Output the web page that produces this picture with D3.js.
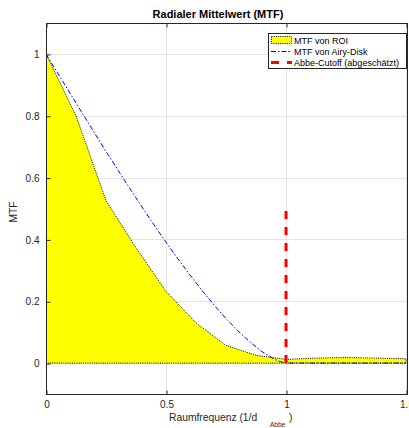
<!DOCTYPE html>
<html>
<head>
<meta charset="utf-8">
<script src="https://cdn.jsdelivr.net/npm/d3@7"></script>
<style>
  html, body { margin: 0; padding: 0; background: #fff; }
  svg { display: block; font-family: "Liberation Sans", Arial, Helvetica, sans-serif; }
</style>
</head>
<body>
<svg id="chart" width="409" height="428"></svg>
<script>
// Spatial frequency samples (in units of 1/d_Abbe) and measured radial MTF of the ROI
const roiFreq = [0, 0.125, 0.25, 0.375, 0.5, 0.625, 0.75, 0.875, 1.0, 1.125, 1.25, 1.375, 1.5];
const roiMtf  = [1.0, 0.80, 0.525, 0.373, 0.232, 0.130, 0.057, 0.025, 0.012, 0.016, 0.018, 0.016, 0.014];

// Diffraction-limited MTF of the Airy disk
const airyFreq = [0, 0.05, 0.1, 0.15, 0.2, 0.25, 0.3, 0.35, 0.4, 0.45, 0.5, 0.55, 0.6, 0.65, 0.7,
                  0.75, 0.8, 0.85, 0.9, 0.95, 0.975, 1.0, 1.25, 1.5];
const airyMtf  = [1.0, 0.936, 0.873, 0.810, 0.747, 0.685, 0.624, 0.564, 0.505, 0.447, 0.391,
                  0.337, 0.285, 0.235, 0.188, 0.144, 0.104, 0.068, 0.037, 0.013, 0.005, 0.0, 0.0, 0.0];

// Estimated Abbe cutoff marker
const cutoffFreq = [1.0, 1.0];
const cutoffMtf  = [0, 0.5];

const xTicks = [0, 0.5, 1, 1.5];
const yTicks = [0, 0.2, 0.4, 0.6, 0.8, 1];
const legendLabels = ["MTF von ROI", "MTF von Airy-Disk", "Abbe-Cutoff (abgeschätzt)"];

const svg = d3.select("#chart");
const plotL = 46, plotR = 407, plotT = 23, plotB = 394;
const ink = "#262626";

const x = d3.scaleLinear().domain([0, 1.5]).range([plotL, plotR - 1]);
const y = d3.scaleLinear().domain([-0.1, 1.1]).range([plotB, plotT]);

// clip to plot area
svg.append("defs").append("clipPath").attr("id", "plotclip")
  .append("rect").attr("x", plotL).attr("y", plotT).attr("width", plotR - plotL).attr("height", plotB - plotT);

// grid
const grid = svg.append("g").attr("stroke", "#e3e3e3").attr("stroke-width", 1);
grid.selectAll(".gx").data(xTicks).join("line")
  .attr("x1", d => Math.round(x(d)) + 0.5).attr("x2", d => Math.round(x(d)) + 0.5)
  .attr("y1", plotT).attr("y2", plotB);
grid.selectAll(".gy").data(yTicks).join("line")
  .attr("y1", d => Math.round(y(d)) + 0.5).attr("y2", d => Math.round(y(d)) + 0.5)
  .attr("x1", plotL).attr("x2", plotR);

const plot = svg.append("g").attr("clip-path", "url(#plotclip)");

const roiPts = roiFreq.map((f, i) => [f, roiMtf[i]]);
const area = d3.area().x(d => x(d[0])).y0(y(0)).y1(d => y(d[1]));
plot.append("path").datum(roiPts).attr("d", area).attr("fill", "#ffff00");

// dotted outline of the filled region
const outline = [[0, 0]].concat(roiPts, [[1.5, 0], [0, 0]]);
plot.append("path").datum(outline)
  .attr("d", d3.line().x(d => x(d[0])).y(d => y(d[1])))
  .attr("fill", "none").attr("stroke", "#000").attr("stroke-width", 1)
  .attr("stroke-dasharray", "1,1.2");

// Airy disk MTF
plot.append("path").datum(airyFreq.map((f, i) => [f, airyMtf[i]]))
  .attr("d", d3.line().x(d => x(d[0])).y(d => y(d[1])))
  .attr("fill", "none").attr("stroke", "#0000ff").attr("stroke-width", 1)
  .attr("stroke-dasharray", "5,2,1.5,2");

// Abbe cutoff
plot.append("path").datum(cutoffFreq.map((f, i) => [f, cutoffMtf[i]]))
  .attr("d", d3.line().x(d => x(d[0])).y(d => y(d[1])))
  .attr("fill", "none").attr("stroke", "#ff0000").attr("stroke-width", 3)
  .attr("stroke-dasharray", "8,8");

// axes box
svg.append("rect").attr("x", plotL + 0.5).attr("y", plotT + 0.5)
  .attr("width", plotR - plotL).attr("height", plotB - plotT)
  .attr("fill", "none").attr("stroke", ink).attr("stroke-width", 1);

const xAxis = d3.axisBottom(x).tickValues(xTicks).tickSize(-4).tickPadding(6).tickFormat(d3.format("~g"));
const gx = svg.append("g").attr("transform", `translate(0.5,${plotB + 0.5})`).call(xAxis);
const xTop = d3.axisTop(x).tickValues(xTicks).tickSize(-4).tickFormat("");
const gxt = svg.append("g").attr("transform", `translate(0.5,${plotT + 0.5})`).call(xTop);
const yAxis = d3.axisLeft(y).tickValues(yTicks).tickSize(-4).tickPadding(7).tickFormat(d3.format("~g"));
const gy = svg.append("g").attr("transform", `translate(${plotL + 0.5},0.5)`).call(yAxis);
[gx, gxt, gy].forEach(g => {
  g.select(".domain").remove();
  g.selectAll(".tick line").attr("stroke", ink);
  g.selectAll(".tick text").attr("fill", ink).attr("font-size", 10)
    .attr("font-family", "'Liberation Sans', Arial, sans-serif");
});

// title
svg.append("text").attr("x", 218).attr("y", 18).attr("text-anchor", "middle")
  .attr("font-size", 11).attr("font-weight", "bold").attr("fill", "#000")
  .text("Radialer Mittelwert (MTF)");

// axis labels
svg.append("text").attr("x", 169).attr("y", 421)
  .attr("font-size", 10.3).attr("fill", ink).text("Raumfrequenz (1/d");
svg.append("text").attr("x", 270).attr("y", 427)
  .attr("font-size", 6.5).attr("fill", ink).text("Abbe");
svg.append("text").attr("x", 289).attr("y", 421)
  .attr("font-size", 10.3).attr("fill", ink).text(")");

svg.append("text").attr("transform", "translate(17,212) rotate(-90)")
  .attr("text-anchor", "middle").attr("font-size", 10.3).attr("fill", ink).text("MTF");

// legend
const lg = svg.append("g");
lg.append("rect").attr("x", 268.5).attr("y", 33.5).attr("width", 138).attr("height", 35)
  .attr("fill", "#fff").attr("stroke", ink).attr("stroke-width", 1);
const rowY = [40, 51, 62];
lg.append("rect").attr("x", 271.5).attr("y", rowY[0] - 3.5).attr("width", 20).attr("height", 7)
  .attr("fill", "#ffff00").attr("stroke", "#000").attr("stroke-width", 1).attr("stroke-dasharray", "1,1.2");
lg.append("line").attr("x1", 271).attr("x2", 292).attr("y1", rowY[1] + 0.5).attr("y2", rowY[1] + 0.5)
  .attr("stroke", "#0000ff").attr("stroke-width", 1).attr("stroke-dasharray", "5,2,1.5,2");
lg.append("line").attr("x1", 271).attr("x2", 292).attr("y1", rowY[2] + 0.5).attr("y2", rowY[2] + 0.5)
  .attr("stroke", "#ff0000").attr("stroke-width", 3).attr("stroke-dasharray", "8,8");
lg.selectAll(".lt").data(legendLabels).join("text")
  .attr("x", 294).attr("y", (d, i) => rowY[i] + 3.5)
  .attr("font-size", 9).attr("fill", "#000").text(d => d);
</script>
</body>
</html>
